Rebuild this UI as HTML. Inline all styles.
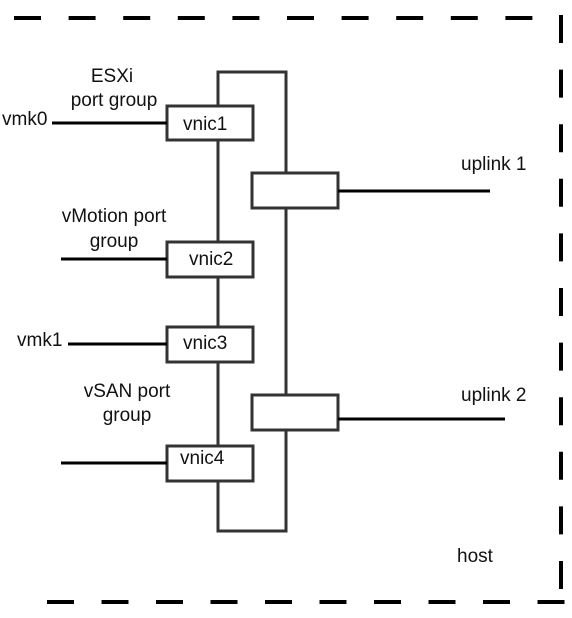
<!DOCTYPE html>
<html><head><style>body{margin:0;background:#fff}svg{display:block}text{font-family:"Liberation Sans",sans-serif;font-size:19px;fill:#111}</style></head>
<body>
<svg width="572" height="618" viewBox="0 0 572 618" xmlns="http://www.w3.org/2000/svg">
<g stroke="#000" stroke-width="4" fill="none">
<line x1="14" y1="18" x2="533" y2="18" stroke-dasharray="27 27.6"/>
<line x1="561" y1="15" x2="561" y2="590" stroke-dasharray="28 26.6"/>
<line x1="47" y1="602" x2="572" y2="602" stroke-dasharray="27 27.5"/>
</g>
<g stroke="#333" stroke-width="3" fill="none">
<polyline points="218,106 218,72 286,72 286,173"/>
<line x1="218" y1="140" x2="218" y2="242"/>
<line x1="218" y1="277" x2="218" y2="327"/>
<line x1="218" y1="362" x2="218" y2="446"/>
<polyline points="218,481 218,531 286,531 286,430"/>
<line x1="286" y1="208" x2="286" y2="395"/>
<rect x="167" y="106" width="86" height="34" fill="#fff"/>
<rect x="167" y="242" width="86" height="35" fill="#fff"/>
<rect x="167" y="327" width="86" height="35" fill="#fff"/>
<rect x="167" y="446" width="86" height="35" fill="#fff"/>
<rect x="252" y="173" width="86" height="35" fill="#fff"/>
<rect x="252" y="395" width="86" height="35" fill="#fff"/>
</g>
<g stroke="#000" stroke-width="3">
<line x1="338" y1="191" x2="490" y2="191"/>
<line x1="338" y1="419" x2="505" y2="419"/>
<line x1="52" y1="123" x2="167" y2="123"/>
<line x1="61" y1="259" x2="167" y2="259"/>
<line x1="68" y1="344" x2="167" y2="344"/>
<line x1="61" y1="463" x2="167" y2="463"/>
</g>
<text x="112" y="82" text-anchor="middle">ESXi</text>
<text x="114" y="106" text-anchor="middle">port group</text>
<text x="2" y="125">vmk0</text>
<text x="183" y="130">vnic1</text>
<text x="114" y="222" text-anchor="middle">vMotion port</text>
<text x="114" y="247" text-anchor="middle">group</text>
<text x="189" y="265">vnic2</text>
<text x="461" y="170">uplink 1</text>
<text x="17" y="346">vmk1</text>
<text x="183" y="349">vnic3</text>
<text x="127" y="397" text-anchor="middle">vSAN port</text>
<text x="127" y="421" text-anchor="middle">group</text>
<text x="180" y="464">vnic4</text>
<text x="461" y="401">uplink 2</text>
<text x="457" y="562">host</text>
</svg>
</body></html>
